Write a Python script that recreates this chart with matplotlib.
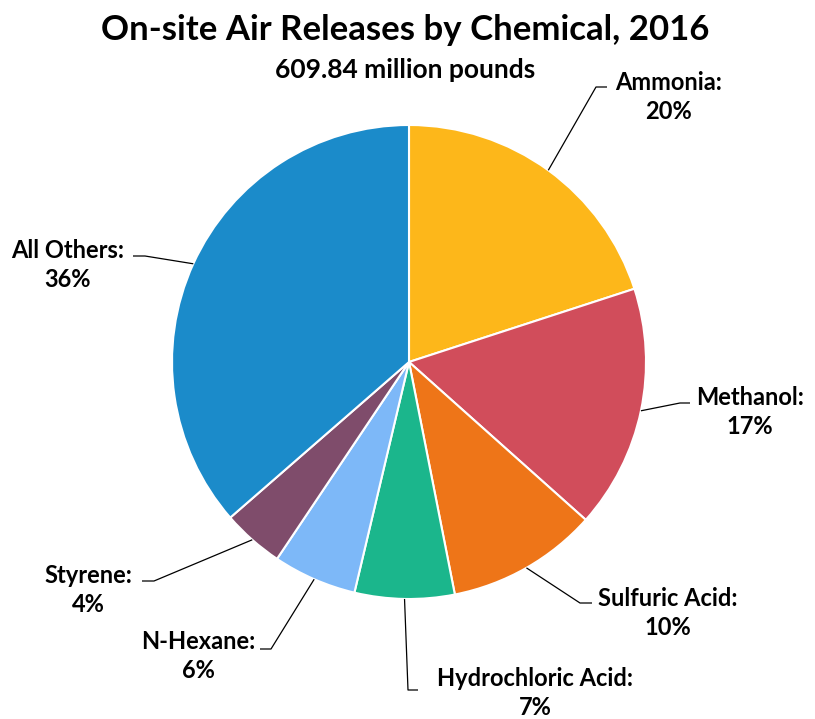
import numpy as np
import matplotlib.pyplot as plt

plt.rcParams['font.family'] = ['Lato', 'DejaVu Sans']

# --- data ---
chemicals = ['Ammonia', 'Methanol', 'Sulfuric Acid', 'Hydrochloric Acid',
             'N-Hexane', 'Styrene', 'All Others']
shares = [20.0, 16.6, 10.3, 6.8, 5.7, 4.2, 36.4]   # percent of total
colors = ['#FDB71A', '#D14D5B', '#EE7518', '#1BB68C',
          '#7DB8F8', '#7F4C6B', '#1B8BCA']
title = 'On-site Air Releases by Chemical, 2016'
subtitle = '609.84 million pounds'

# --- layout in pixels (figure 815x719) ---
W, H = 815, 719
cx, cy, R = 409, 362, 237

def px(x, y):
    # pixel (from top-left) -> data coords where pie radius = 1
    return (x - cx) / R, (cy - y) / R

# label text centre, elbow start (near text), elbow end
label_pos = {
    'Ammonia':           ((669, 97),  (607, 87),  (596, 87)),
    'Methanol':          ((750, 412), (690, 403), (680, 403)),
    'Sulfuric Acid':     ((668, 613), (592, 603), (580, 603)),
    'Hydrochloric Acid': ((535, 693), (418, 690), (408, 690)),
    'N-Hexane':          ((198, 656), (260, 649), (271, 649)),
    'Styrene':           ((88, 590),  (142, 581), (154, 581)),
    'All Others':        ((68, 265),  (133, 256), (145, 256)),
}

fig = plt.figure(figsize=(W / 100, H / 100), dpi=100)
ax = fig.add_axes([0, 0, 1, 1])

wedges, _ = ax.pie(shares, colors=colors, startangle=90, counterclock=False,
                   radius=1, center=(0, 0), frame=True,
                   wedgeprops=dict(edgecolor='white', linewidth=1.5))
ax.set_xlim(-cx / R, (W - cx) / R)
ax.set_ylim((cy - H) / R, cy / R)
ax.set_axis_off()

for w, name, val in zip(wedges, chemicals, shares):
    mid = np.radians((w.theta1 + w.theta2) / 2)
    ex, ey = np.cos(mid), np.sin(mid)
    (tx, ty), a, b = label_pos[name]
    ax_, ay_ = px(*a)
    bx_, by_ = px(*b)
    ax.plot([ax_, bx_, ex], [ay_, by_, ey], color='black', lw=0.9,
            solid_capstyle='butt')
    lx, ly = px(tx, ty)
    ax.text(lx, ly, f'{name}:\n{round(val)}%', ha='center', va='center',
            fontsize=17, fontweight='bold', linespacing=1.3)

fig.text(405 / W, 1 - 30 / H, title, ha='center', va='center',
         fontsize=25, fontweight='bold')
fig.text(405 / W, 1 - 70 / H, subtitle, ha='center', va='center',
         fontsize=19, fontweight='bold')

fig.savefig('out.png', dpi=100, facecolor='white')
